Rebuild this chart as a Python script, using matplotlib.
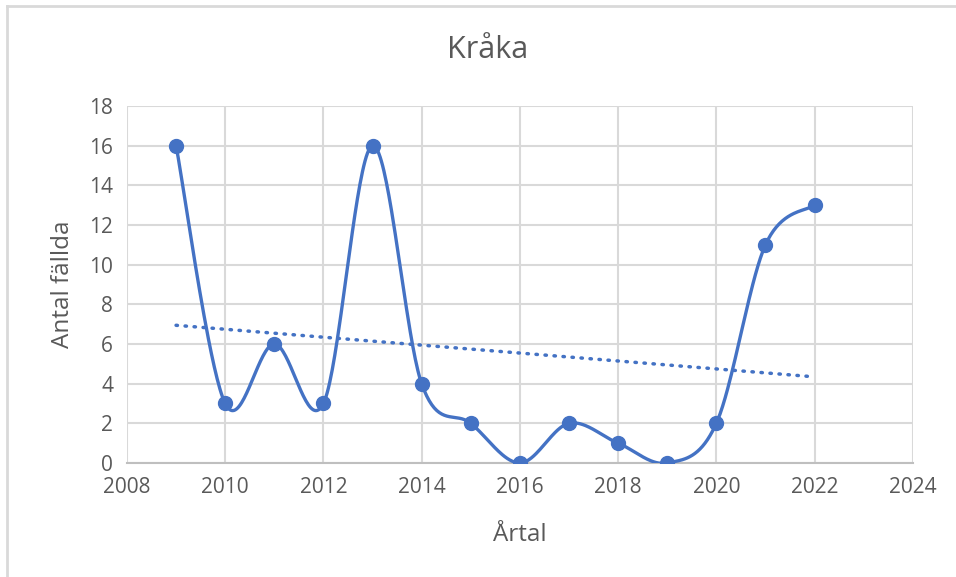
import matplotlib.pyplot as plt
from matplotlib.lines import Line2D
import numpy as np

years = [2009, 2010, 2011, 2012, 2013, 2014, 2015, 2016, 2017, 2018, 2019, 2020, 2021, 2022]
counts = [16, 3, 6, 3, 16, 4, 2, 0, 2, 1, 0, 2, 11, 13]
x_ticks = [2008, 2010, 2012, 2014, 2016, 2018, 2020, 2022, 2024]
y_ticks = [0, 2, 4, 6, 8, 10, 12, 14, 16, 18]

blue = '#4472C4'
grey_text = '#595959'
grid_col = '#d9d9d9'

plt.rcParams['font.family'] = ['Open Sans', 'DejaVu Sans']


# Excel-like smoothed line: cubic Bezier with Catmull-Rom tangents
def smooth(xs, ys, n=40):
    p = np.column_stack([xs, ys]).astype(float)
    p = np.vstack([p[0], p, p[-1]])
    out = []
    for i in range(1, len(p) - 2):
        p0, p1, p2, p3 = p[i - 1], p[i], p[i + 1], p[i + 2]
        c1 = p1 + (p2 - p0) / 6
        c2 = p2 - (p3 - p1) / 6
        t = np.linspace(0, 1, n)[:, None]
        seg = (1 - t)**3 * p1 + 3 * (1 - t)**2 * t * c1 + 3 * (1 - t) * t**2 * c2 + t**3 * p2
        out.append(seg)
    out = np.vstack(out)
    return out[:, 0], out[:, 1]


fig = plt.figure(figsize=(9.56, 5.77), dpi=100)
ax = fig.add_axes([0.1328, 0.1976, 0.822, 0.6187])

# chart border (top and left visible)
fig.add_artist(Line2D([0.0068, 0.0068], [0, 0.99], transform=fig.transFigure, color=grid_col, lw=2))
fig.add_artist(Line2D([0.0068, 1], [0.99, 0.99], transform=fig.transFigure, color=grid_col, lw=2))

sx, sy = smooth(years, counts)
ax.plot(sx, sy, color=blue, lw=2.4, zorder=3, solid_capstyle='round')
ax.plot(years, counts, 'o', color=blue, ms=10, zorder=4)

k, m = np.polyfit(years, counts, 1)
tx = np.array([years[0], years[-1]])
ax.plot(tx, k * tx + m, color=blue, lw=2.5, linestyle=(0, (0.4, 2.2)),
        dash_capstyle='round', zorder=2)

ax.set_xlim(2008, 2024)
ax.set_ylim(0, 18)
ax.set_xticks(x_ticks)
ax.set_yticks(y_ticks)
ax.grid(True, color=grid_col, lw=1.5)
ax.set_axisbelow(True)
for s in ['top', 'right', 'left']:
    ax.spines[s].set_visible(False)
ax.spines['bottom'].set_color('#bfbfbf')
ax.spines['bottom'].set_linewidth(1.5)
ax.tick_params(length=0, labelsize=15, labelcolor=grey_text, pad=10)

fig.text(0.51, 0.913, 'Kråka', fontsize=22, color=grey_text, ha='center', va='center')
ax.set_xlabel('Årtal', fontsize=17.5, color=grey_text, labelpad=18)
ax.set_ylabel('Antal fällda', fontsize=17.5, color=grey_text, labelpad=10)

plt.savefig('out.png', dpi=100)
